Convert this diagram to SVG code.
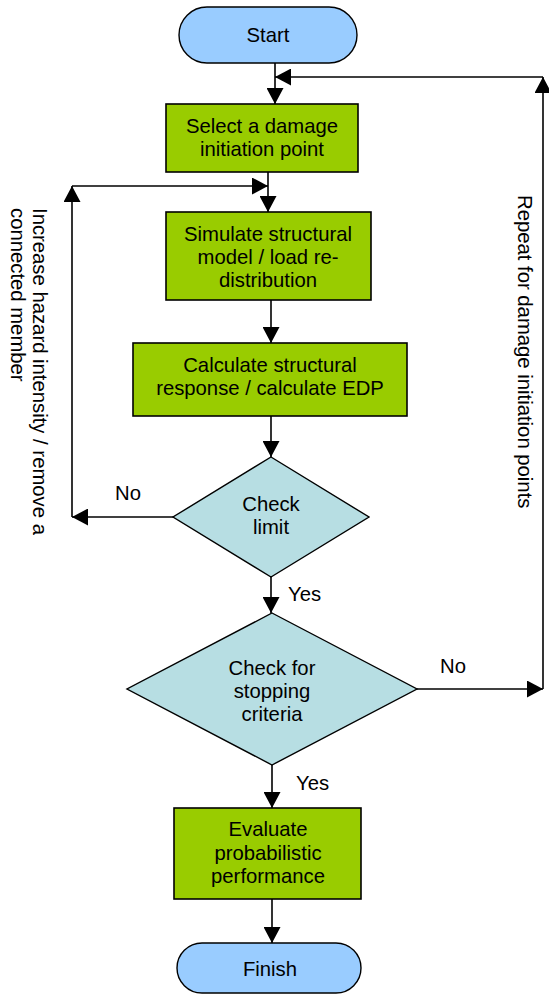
<svg xmlns="http://www.w3.org/2000/svg" width="549" height="995" viewBox="0 0 549 995">
<style>
.t{font-family:"Liberation Sans",Arial,sans-serif;font-size:20.3px;fill:#000;}
.c{text-anchor:middle;}
.term{fill:#99CCFF;stroke:#000;stroke-width:1.4;}
.proc{fill:#99CC00;stroke:#000;stroke-width:1.6;}
.dec{fill:#B7DEE3;stroke:#000;stroke-width:1.4;}
.ln{fill:none;stroke:#000;stroke-width:1.6;}
.ar{marker-end:url(#ah);}
</style>
<defs>
<marker id="ah" markerUnits="userSpaceOnUse" markerWidth="17" markerHeight="17" viewBox="0 0 16 17" refX="16" refY="8.5" orient="auto">
<path d="M0,0 L16,8.5 L0,17 z" fill="#000"/>
</marker>
</defs>
<rect width="549" height="995" fill="#fff"/>
<g id="connectors">
<path class="ln ar" d="M275,63 L275,104"/>
<path class="ln ar" d="M543,77 L275,77"/>
<path class="ln ar" d="M268,172 L268,212"/>
<path class="ln ar" d="M72,517 L72,186"/>
<path class="ln ar" d="M72,186 L268,186"/>
<path class="ln ar" d="M271,300 L271,343"/>
<path class="ln ar" d="M271,416 L271,457"/>
<path class="ln ar" d="M173,517 L72,517"/>
<path class="ln ar" d="M271,577 L271,613"/>
<path class="ln ar" d="M417,689 L543,689"/>
<path class="ln ar" d="M543,689 L543,77"/>
<path class="ln ar" d="M272,765 L272,808"/>
<path class="ln ar" d="M272,899 L272,943"/>
<text class="t" x="115" y="500">No</text>
<text class="t" x="288" y="601">Yes</text>
<text class="t" x="440" y="673">No</text>
<text class="t" x="296" y="790">Yes</text>
<text class="t" transform="translate(33,208) rotate(90)"><tspan x="0" y="0">Increase hazard intensity / remove a</tspan><tspan x="0" y="22">connected member</tspan></text>
<text class="t" transform="translate(518,195) rotate(90)">Repeat for damage initiation points</text>
</g>
<g id="start">
<rect class="term" x="179" y="7" width="178" height="56" rx="28" ry="28"/>
<text class="t c" x="268" y="42">Start</text>
</g>
<g id="select">
<rect class="proc" x="166" y="104" width="192" height="68"/>
<text class="t c" x="262" y="133">Select a damage</text>
<text class="t c" x="262" y="156">initiation point</text>
</g>
<g id="simulate">
<rect class="proc" x="166" y="212" width="205" height="88"/>
<text class="t c" x="268" y="241">Simulate structural</text>
<text class="t c" x="268" y="264">model / load re-</text>
<text class="t c" x="268" y="287">distribution</text>
</g>
<g id="calculate">
<rect class="proc" x="133" y="343" width="274" height="73"/>
<text class="t c" x="270" y="372">Calculate structural</text>
<text class="t c" x="270" y="395">response / calculate EDP</text>
</g>
<g id="checklimit">
<polygon class="dec" points="271,457 369,517 271,577 173,517"/>
<text class="t c" x="271" y="511">Check</text>
<text class="t c" x="271" y="534">limit</text>
</g>
<g id="checkstop">
<polygon class="dec" points="272,613 417,689 272,765 127,689"/>
<text class="t c" x="272" y="675">Check for</text>
<text class="t c" x="272" y="698">stopping</text>
<text class="t c" x="272" y="721">criteria</text>
</g>
<g id="evaluate">
<rect class="proc" x="174" y="808" width="187" height="91"/>
<text class="t c" x="268" y="836">Evaluate</text>
<text class="t c" x="268" y="860">probabilistic</text>
<text class="t c" x="268" y="883">performance</text>
</g>
<g id="finish">
<rect class="term" x="177" y="943" width="184" height="50" rx="25" ry="25"/>
<text class="t c" x="270" y="976">Finish</text>
</g>
</svg>
